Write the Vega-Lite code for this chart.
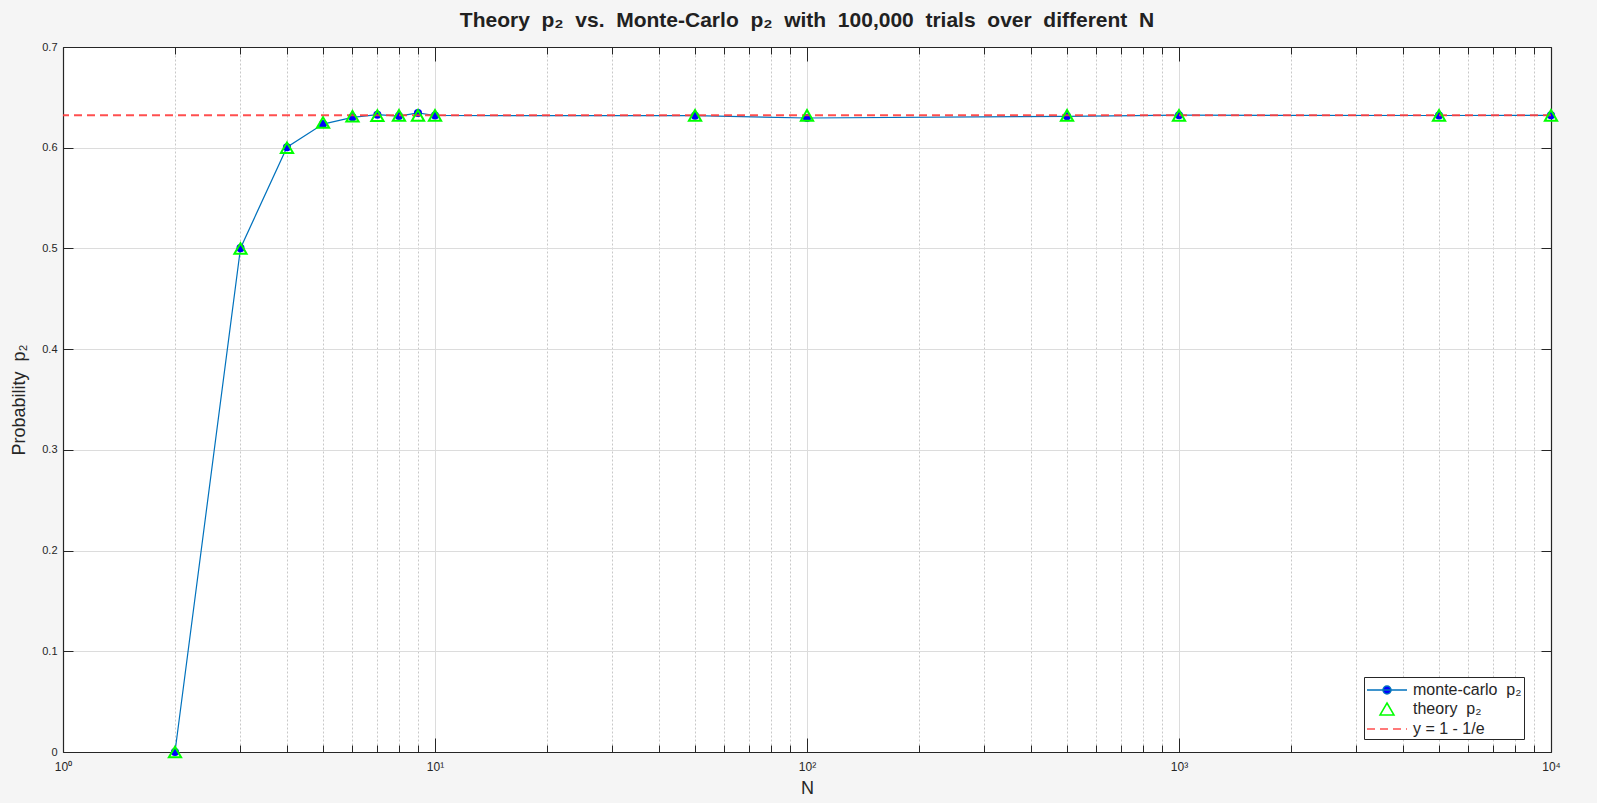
{
  "$schema": "https://vega.github.io/schema/vega-lite/v6.json",
  "autosize": {"type": "none"},
  "padding": {"left": 63, "top": 47, "right": 46, "bottom": 51},
  "width": 1488,
  "height": 705,
  "background": "#f5f5f5",
  "title": {
    "text": "Theory\u00a0 p₂ \u00a0vs.\u00a0 Monte-Carlo\u00a0 p₂ \u00a0with\u00a0 100,000\u00a0 trials\u00a0 over\u00a0 different\u00a0 N",
    "font": "Liberation Sans",
    "fontSize": 21,
    "fontWeight": "bold",
    "color": "#212121",
    "anchor": "middle",
    "offset": 10
  },
  "data": {
    "values": [
      {"N": 2, "mc": 0.0, "theory": 0.0},
      {"N": 3, "mc": 0.5003, "theory": 0.5},
      {"N": 4, "mc": 0.6005, "theory": 0.6},
      {"N": 5, "mc": 0.6235, "theory": 0.625},
      {"N": 6, "mc": 0.6302, "theory": 0.6312},
      {"N": 7, "mc": 0.6328, "theory": 0.6319},
      {"N": 8, "mc": 0.6314, "theory": 0.6321},
      {"N": 9, "mc": 0.6345, "theory": 0.6321},
      {"N": 10, "mc": 0.632, "theory": 0.6321},
      {"N": 50, "mc": 0.6318, "theory": 0.6321},
      {"N": 100, "mc": 0.6295, "theory": 0.6321},
      {"N": 500, "mc": 0.6312, "theory": 0.6321},
      {"N": 1000, "mc": 0.6323, "theory": 0.6321},
      {"N": 5000, "mc": 0.632, "theory": 0.6321},
      {"N": 10000, "mc": 0.6322, "theory": 0.6321}
    ]
  },
  "resolve": {"axis": {"x": "independent", "y": "independent"}},
  "layer": [
    {
      "mark": {"type": "line", "color": "#0072bd", "strokeWidth": 1.2},
      "encoding": {
        "x": {
          "field": "N", "type": "quantitative",
          "scale": {"type": "log", "domain": [1, 10000], "nice": false},
          "axis": {
            "orient": "bottom",
            "values": [1, 10, 100, 1000, 10000],
            "labelExpr": "datum.value == 1 ? '10⁰' : datum.value == 10 ? '10¹' : datum.value == 100 ? '10²' : datum.value == 1000 ? '10³' : '10⁴'",
            "tickSize": -14, "tickColor": "#262626", "tickWidth": 1,
            "labelPadding": 23, "labelFlush": false, "labelOverlap": false, "labelBound": false,
            "labelFontSize": 12,
            "grid": true, "gridColor": "#dcdcdc", "gridWidth": 1,
            "domain": true, "domainColor": "#262626", "domainWidth": 1.2,
            "title": "N", "titleFontSize": 18, "titlePadding": 7
          }
        },
        "y": {
          "field": "mc", "type": "quantitative",
          "scale": {"domain": [0, 0.7], "nice": false, "zero": false},
          "axis": {
            "orient": "left",
            "values": [0, 0.1, 0.2, 0.3, 0.4, 0.5, 0.6, 0.7],
            "format": ".1~f",
            "tickSize": -10, "tickColor": "#262626",
            "labelPadding": 16, "labelFontSize": 11,
            "grid": true, "gridColor": "#dcdcdc",
            "domain": true, "domainColor": "#262626", "domainWidth": 1.2,
            "title": "Probability\u00a0 p₂", "titleFontSize": 18, "titlePadding": 13
          }
        }
      }
    },
    {
      "mark": {"type": "point", "shape": "circle", "filled": true, "color": "#0000ff", "size": 65, "opacity": 1},
      "encoding": {
        "x": {
          "field": "N", "type": "quantitative",
          "scale": {"type": "log", "domain": [1, 10000], "nice": false},
          "axis": {
            "orient": "bottom",
            "values": [2, 3, 4, 5, 6, 7, 8, 9, 20, 30, 40, 50, 60, 70, 80, 90, 200, 300, 400, 500, 600, 700, 800, 900, 2000, 3000, 4000, 5000, 6000, 7000, 8000, 9000],
            "tickSize": -7, "tickColor": "#262626",
            "labels": false, "domain": false,
            "grid": true, "gridColor": "#c8c8c8", "gridDash": [2, 2],
            "title": null
          }
        },
        "y": {
          "field": "mc", "type": "quantitative",
          "scale": {"domain": [0, 0.7], "nice": false, "zero": false},
          "axis": {
            "orient": "right",
            "values": [0, 0.1, 0.2, 0.3, 0.4, 0.5, 0.6, 0.7],
            "tickSize": -10, "tickColor": "#262626",
            "labels": false, "grid": false,
            "domain": true, "domainColor": "#262626", "domainWidth": 1.2,
            "title": null
          }
        }
      }
    },
    {
      "data": {"values": [{"yref": 0.632120559}]},
      "mark": {"type": "rule", "color": "#ff3c3c", "opacity": 0.9, "strokeWidth": 2, "strokeDash": [8, 5]},
      "encoding": {
        "y": {
          "field": "yref", "type": "quantitative",
          "scale": {"domain": [0, 0.7], "nice": false, "zero": false},
          "axis": null
        }
      }
    },
    {
      "mark": {"type": "point", "shape": "M0,-0.866L1,0.866L-1,0.866Z", "filled": false, "stroke": "#00ff00", "strokeWidth": 2, "size": 150, "opacity": 1},
      "encoding": {
        "x": {
          "field": "N", "type": "quantitative",
          "scale": {"type": "log", "domain": [1, 10000], "nice": false},
          "axis": {
            "orient": "top",
            "values": [1, 10, 100, 1000, 10000],
            "tickSize": -14, "tickColor": "#262626",
            "labels": false, "grid": false,
            "domain": true, "domainColor": "#262626", "domainWidth": 1.2,
            "title": null
          }
        },
        "y": {
          "field": "theory", "type": "quantitative",
          "scale": {"domain": [0, 0.7], "nice": false, "zero": false},
          "axis": null
        }
      }
    },
    {
      "data": {"values": [{"s": "monte-carlo\u00a0 p₂"}, {"s": "theory\u00a0 p₂"}, {"s": "y = 1 - 1/e"}]},
      "mark": {"type": "point", "opacity": 0},
      "encoding": {
        "x": {
          "datum": 100, "type": "quantitative",
          "scale": {"type": "log", "domain": [1, 10000], "nice": false},
          "axis": {
            "orient": "top",
            "values": [2, 3, 4, 5, 6, 7, 8, 9, 20, 30, 40, 50, 60, 70, 80, 90, 200, 300, 400, 500, 600, 700, 800, 900, 2000, 3000, 4000, 5000, 6000, 7000, 8000, 9000],
            "tickSize": -7, "tickColor": "#262626",
            "labels": false, "domain": false, "grid": false,
            "title": null
          }
        },
        "shape": {
          "field": "s", "type": "nominal",
          "scale": {
            "domain": ["monte-carlo\u00a0 p₂", "theory\u00a0 p₂", "y = 1 - 1/e"],
            "range": [
              "M-2,0H2M-0.4,0A0.4,0.4 0 1,1 0.4,0A0.4,0.4 0 1,1 -0.4,0Z",
              "M0,-0.6L0.7,0.6L-0.7,0.6Z",
              "M-2,0H-1.2M-0.7,0H0.1M0.6,0H1.4M1.9,0H2"
            ]
          },
          "legend": {
            "title": null,
            "orient": "none",
            "legendX": 1301,
            "legendY": 630,
            "symbolSize": 400,
            "symbolOpacity": 1,
            "symbolStrokeWidth": 1.5,
            "symbolOffset": 10,
            "labelOffset": 15,
            "labelFont": "Liberation Sans",
            "labelFontSize": 16,
            "labelColor": "#262626",
            "rowPadding": 0,
            "padding": 2,
            "strokeColor": "#262626",
            "fillColor": "white",
            "cornerRadius": 0,
            "labelLimit": 300
          }
        },
        "stroke": {
          "field": "s", "type": "nominal",
          "scale": {
            "domain": ["monte-carlo\u00a0 p₂", "theory\u00a0 p₂", "y = 1 - 1/e"],
            "range": ["#0072bd", "#00ff00", "#ff4d4d"]
          }
        },
        "fill": {
          "field": "s", "type": "nominal",
          "scale": {
            "domain": ["monte-carlo\u00a0 p₂", "theory\u00a0 p₂", "y = 1 - 1/e"],
            "range": ["#0000ff", "transparent", "transparent"]
          }
        }
      }
    }
  ],
  "config": {
    "view": {"fill": "white", "stroke": null},
    "axis": {
      "labelFont": "Liberation Sans",
      "titleFont": "Liberation Sans",
      "labelColor": "#262626",
      "titleColor": "#262626",
      "titleFontWeight": "normal"
    }
  }
}
